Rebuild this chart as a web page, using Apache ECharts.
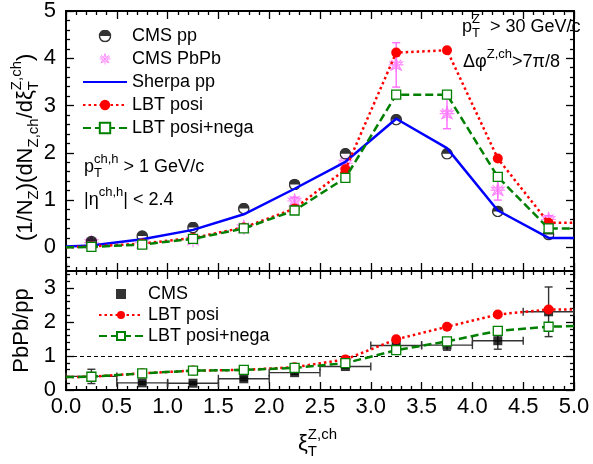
<!DOCTYPE html>
<html>
<head>
<meta charset="utf-8">
<title>xi_T Z-hadron</title>
<script src="https://cdn.jsdelivr.net/npm/echarts@6.0.0/dist/echarts.min.js"></script>
<style>
	html, body { margin: 0; padding: 0; background: #fff; }
	#chart { width: 593px; height: 464px; }
</style>
</head>
<body>
<div id="chart"></div>
<script>
var xCenters = [0.25, 0.75, 1.25, 1.75, 2.25, 2.75, 3.25, 3.75, 4.25, 4.75];
var lineX = [0, 0.25, 0.75, 1.25, 1.75, 2.25, 2.75, 3.25, 3.75, 4.25, 4.75, 5];
var binHalf = [0.25, 0.25, 0.25, 0.25, 0.25, 0.25, 0.25, 0.25, 0.25, 0.25];

// 上图: 分布
var cmsPP = [0.12, 0.24, 0.42, 0.82, 1.33, 1.98, 2.70, 1.98, 0.76, 0.27];
var cmsPbPb = [0.10, 0.10, 0.16, 0.42, 0.98, 1.78, 3.86, 2.83, 1.21, 0.59];
var cmsPbPbErr = [0.05, 0.05, 0.05, 0.06, 0.08, 0.15, 0.47, 0.32, 0.21, 0.08];
var sherpaPP = [0.02, 0.04, 0.17, 0.37, 0.70, 1.24, 1.81, 2.72, 2.10, 0.78, 0.20, 0.20];
var lbtPosi = [0.0, 0.02, 0.08, 0.20, 0.42, 0.82, 1.65, 4.12, 4.17, 1.88, 0.52, 0.52];
var lbtPosiNega = [0.0, 0.01, 0.06, 0.18, 0.40, 0.78, 1.47, 3.23, 3.23, 1.49, 0.40, 0.40];

// 下图: PbPb/pp
var cmsRatio = [0.40, 0.21, 0.20, 0.33, 0.51, 0.69, 1.31, 1.32, 1.45, 2.30];
var cmsRatioErr = [0.21, 0.04, 0.04, 0.05, 0.05, 0.05, 0.08, 0.15, 0.25, 0.73];
var lbtPosiRatio = [0.38, 0.39, 0.49, 0.57, 0.59, 0.67, 0.90, 1.49, 1.86, 2.22, 2.37, 2.37];
var lbtPosiNegaRatio = [0.38, 0.39, 0.49, 0.57, 0.59, 0.65, 0.79, 1.17, 1.43, 1.74, 1.86, 1.88];

var topYTicks = [0, 1, 2, 3, 4, 5];
var bottomYTicks = [0, 1, 2, 3];

var FONT = 'Liberation Sans';
var RED = '#ff0000', GREEN = '#008000', BLUE = '#0000ff', PINK = '#ff6eff';

var chart = echarts.init(document.getElementById('chart'));

var ctx = document.createElement('canvas').getContext('2d');
function textWidth(t, size) {
	ctx.font = size + 'px "' + FONT + '"';
	return ctx.measureText(t).width;
}
function txt(t, x, y, size) {
	return {
		type: 'text', x: x, y: y,
		style: {
			text: t, fontSize: size, fontFamily: FONT, fill: '#000',
			align: 'left', textAlign: 'left', verticalAlign: 'middle', textVerticalAlign: 'middle'
		}
	};
}
// 简单的上下标排版
function mathText(x, y, size, parts, rot) {
	var children = [];
	var cx = 0;
	var s = Math.round(size * 0.7);
	parts.forEach(function(p) {
		if(p.t) {
			children.push(txt(p.t, cx, 0, size));
			cx += textWidth(p.t, size);
		}
		var adv = 0;
		if(p.sup) {
			children.push(txt(p.sup, cx, -0.42 * size, s));
			adv = textWidth(p.sup, s);
		}
		if(p.sub) {
			children.push(txt(p.sub, cx, 0.34 * size, s));
			adv = Math.max(adv, textWidth(p.sub, s));
		}
		cx += adv;
	});
	return { type: 'group', x: x, y: y, rotation: rot || 0, children: children };
}

function pairs(xs, ys, noEnds) {
	return xs.map(function(x, i) {
		var item = { value: [x, ys[i]] };
		if(noEnds && (i === 0 || i === xs.length - 1)) {
			item.symbol = 'none';
		}
		return item;
	});
}

var halfCircleSvg = "<svg xmlns='http://www.w3.org/2000/svg' width='24' height='24' viewBox='0 0 24 24'>" +
	"<circle cx='12' cy='12' r='10.3' fill='white' stroke='black' stroke-width='2.8'/>" +
	"<path d='M1.7,12 A10.3,10.3 0 0 1 22.3,12 Z' fill='black'/></svg>";
var halfCircle = 'image://data:image/svg+xml;charset=utf-8,' + encodeURIComponent(halfCircleSvg);
var asteriskSvg = "<svg xmlns='http://www.w3.org/2000/svg' width='30' height='30' viewBox='-15 -15 30 30'>" +
	"<g stroke='" + PINK + "' stroke-width='2' fill='none'>" +
	"<path d='M0,-13L0,13M-13,0L13,0M-9,-9L9,9M-9,9L9,-9'/>" +
	"<path d='M0,-12L3,-4L11,-5L5,1L9,9L0,5L-9,9L-5,1L-11,-5L-3,-4Z'/></g></svg>";
var asterisk = 'image://data:image/svg+xml;charset=utf-8,' + encodeURIComponent(asteriskSvg);
var squareIcon = 'path://M0,0L10,0L10,10L0,10Z';

function errorBars(params, api) {
	var x = api.value(0), y = api.value(1), e = api.value(2), xe = api.value(3);
	var hi = api.coord([x, y + e]), lo = api.coord([x, y - e]);
	var c = api.coord([x, y]);
	var st = { stroke: api.visual('color'), lineWidth: 1.4 };
	var cap = 4;
	var ch = [
		{ type: 'line', shape: { x1: hi[0], y1: hi[1], x2: lo[0], y2: lo[1] }, style: st },
		{ type: 'line', shape: { x1: hi[0] - cap, y1: hi[1], x2: hi[0] + cap, y2: hi[1] }, style: st },
		{ type: 'line', shape: { x1: lo[0] - cap, y1: lo[1], x2: lo[0] + cap, y2: lo[1] }, style: st }
	];
	if(xe) {
		var l = api.coord([x - xe, y]), r = api.coord([x + xe, y]);
		ch.push({ type: 'line', shape: { x1: l[0], y1: c[1], x2: r[0], y2: c[1] }, style: st });
		ch.push({ type: 'line', shape: { x1: l[0], y1: c[1] - cap, x2: l[0], y2: c[1] + cap }, style: st });
		ch.push({ type: 'line', shape: { x1: r[0], y1: c[1] - cap, x2: r[0], y2: c[1] + cap }, style: st });
	}
	return { type: 'group', children: ch };
}

var minorTop = [], minorBottom = [];
for(var i = -2; i <= 25; i++) {
	if(i % 5 !== 0) minorTop.push(i / 5);
}
for(var j = 1; j < 18; j++) {
	if(j % 5 !== 0) minorBottom.push(j / 5);
}

var tickLine = { color: '#000', width: 1.3 };
var frameLine = { show: true, onZero: false, lineStyle: { color: '#000', width: 1.8 } };

function xAxisOf(grid, pos, labels) {
	return {
		type: 'value', gridIndex: grid, position: pos, min: 0, max: 5, interval: 0.5,
		axisLine: frameLine,
		axisTick: { inside: true, length: 8, lineStyle: tickLine },
		minorTick: { show: true, splitNumber: 5, length: 4, lineStyle: tickLine },
		splitLine: { show: false },
		axisLabel: {
			show: labels, margin: 6, fontSize: 22, color: '#000', fontFamily: FONT,
			formatter: function(v) { return v.toFixed(1); }
		}
	};
}
function yAxisOf(grid, pos, min, max, ticks, len, labels) {
	return {
		type: 'value', gridIndex: grid, position: pos, min: min, max: max,
		axisLine: frameLine,
		axisTick: { inside: true, length: len, customValues: ticks, lineStyle: tickLine },
		splitLine: { show: false },
		axisLabel: {
			show: labels, customValues: ticks, margin: 10, fontSize: 22, color: '#000', fontFamily: FONT
		}
	};
}

var xAxes = [xAxisOf(0, 'bottom', false), xAxisOf(0, 'top', false), xAxisOf(1, 'bottom', true), xAxisOf(1, 'top', false)];
var yAxes = [
	yAxisOf(0, 'left', -0.5, 5, topYTicks, 8, true),
	yAxisOf(0, 'right', -0.5, 5, topYTicks, 8, false),
	yAxisOf(0, 'left', -0.5, 5, minorTop, 4, false),
	yAxisOf(0, 'right', -0.5, 5, minorTop, 4, false),
	yAxisOf(1, 'left', 0, 3.5, bottomYTicks, 8, true),
	yAxisOf(1, 'right', 0, 3.5, bottomYTicks, 8, false),
	yAxisOf(1, 'left', 0, 3.5, minorBottom, 4, false),
	yAxisOf(1, 'right', 0, 3.5, minorBottom, 4, false)
];
yAxes[4].name = 'PbPb/pp';
yAxes[4].nameLocation = 'middle';
yAxes[4].nameRotate = 90;
yAxes[4].nameGap = 21;
yAxes[4].nameTextStyle = { fontSize: 22, color: '#000', fontFamily: FONT };

var series = [
	{
		type: 'custom', xAxisIndex: 0, yAxisIndex: 0, renderItem: errorBars,
		itemStyle: { color: PINK }, encode: { x: 0, y: 1 }, z: 1,
		data: xCenters.map(function(x, i) { return [x, cmsPbPb[i], cmsPbPbErr[i], 0]; })
	},
	{
		name: 'CMS PbPb', type: 'scatter', xAxisIndex: 0, yAxisIndex: 0,
		symbol: asterisk, symbolSize: 17, symbolKeepAspect: true,
		itemStyle: { color: PINK },
		data: xCenters.map(function(x, i) { return [x, cmsPbPb[i]]; }), z: 2
	},
	{
		name: 'CMS pp', type: 'scatter', xAxisIndex: 0, yAxisIndex: 0,
		symbol: halfCircle, symbolSize: 12, symbolKeepAspect: true,
		itemStyle: { color: '#000' },
		data: xCenters.map(function(x, i) { return [x, cmsPP[i]]; }), z: 3
	},
	{
		name: 'Sherpa pp', type: 'line', xAxisIndex: 0, yAxisIndex: 0,
		symbol: 'none', lineStyle: { color: BLUE, width: 2.5 }, itemStyle: { color: BLUE },
		data: pairs(lineX, sherpaPP), z: 4
	},
	{
		name: 'LBT posi', type: 'line', xAxisIndex: 0, yAxisIndex: 0,
		symbol: 'circle', symbolSize: 10,
		lineStyle: { color: RED, width: 2.5, type: [2.5, 3] }, itemStyle: { color: RED },
		data: pairs(lineX, lbtPosi, true), z: 5
	},
	{
		name: 'LBT posi+nega', type: 'line', xAxisIndex: 0, yAxisIndex: 0,
		symbol: 'rect', symbolSize: 9,
		lineStyle: { color: GREEN, width: 2.5, type: [8, 4] },
		itemStyle: { color: '#fff', borderColor: GREEN, borderWidth: 1.3 },
		data: pairs(lineX, lbtPosiNega, true), z: 6
	},
	{
		type: 'custom', xAxisIndex: 2, yAxisIndex: 4, renderItem: errorBars,
		itemStyle: { color: '#333' }, encode: { x: 0, y: 1 }, z: 1,
		data: xCenters.map(function(x, i) { return [x, cmsRatio[i], cmsRatioErr[i], binHalf[i]]; })
	},
	{
		name: 'CMS', type: 'scatter', xAxisIndex: 2, yAxisIndex: 4,
		symbol: 'rect', symbolSize: 9, itemStyle: { color: '#000' },
		data: xCenters.map(function(x, i) { return [x, cmsRatio[i]]; }), z: 2
	},
	{
		name: 'LBT posi', type: 'line', xAxisIndex: 2, yAxisIndex: 4,
		symbol: 'circle', symbolSize: 10,
		lineStyle: { color: RED, width: 2.5, type: [2.5, 3] }, itemStyle: { color: RED },
		data: pairs(lineX, lbtPosiRatio, true), z: 5,
		markLine: {
			silent: true, symbol: ['none', 'none'], label: { show: false },
			lineStyle: { color: '#000', width: 1, type: [4, 3] },
			data: [{ yAxis: 1 }]
		}
	},
	{
		name: 'LBT posi+nega', type: 'line', xAxisIndex: 2, yAxisIndex: 4,
		symbol: 'rect', symbolSize: 9,
		lineStyle: { color: GREEN, width: 2.5, type: [8, 4] },
		itemStyle: { color: '#fff', borderColor: GREEN, borderWidth: 1.3 },
		data: pairs(lineX, lbtPosiNegaRatio, true), z: 6
	}
];

var graphics = [
	mathText(26, 241, 22, [
		{ t: '(1/N', sub: 'Z' }, { t: ')(dN', sub: 'Z,ch' }, { t: '/d\u03be', sub: 'T', sup: 'Z,ch' }, { t: ')' }
	], Math.PI / 2),
	mathText(298, 444, 22, [{ t: '\u03be', sub: 'T', sup: 'Z,ch' }]),
	mathText(462, 27, 18, [{ t: 'p', sub: 'T', sup: 'Z' }, { t: '  > 30 GeV/c' }]),
	mathText(463, 62, 18, [{ t: '\u0394\u03c6', sup: 'Z,ch' }, { t: '>7\u03c0/8' }]),
	mathText(84, 167, 18, [{ t: 'p', sub: 'T', sup: 'ch,h' }, { t: ' > 1 GeV/c' }]),
	mathText(84, 200, 18, [{ t: '|\u03b7', sup: 'ch,h' }, { t: '| < 2.4' }])
];

var legendText = { fontSize: 18, lineHeight: 18, color: '#000', fontFamily: FONT };

var option = {
	animation: false,
	textStyle: { fontFamily: FONT },
	grid: [
		{ left: 66, right: 19, top: 11, height: 260 },
		{ left: 66, right: 19, top: 271, height: 119 }
	],
	legend: [
		{
			orient: 'vertical', left: 77, top: 22, itemWidth: 44, itemHeight: 13, itemGap: 5,
			textStyle: legendText, selectedMode: false, symbolKeepAspect: true,
			data: [
				{ name: 'CMS pp', icon: halfCircle },
				{ name: 'CMS PbPb', icon: asterisk },
				{ name: 'Sherpa pp', itemStyle: { opacity: 0 } },
				'LBT posi',
				'LBT posi+nega'
			]
		},
		{
			orient: 'vertical', left: 93, top: 280, itemWidth: 44, itemHeight: 10, itemGap: 3,
			textStyle: legendText, selectedMode: false, symbolKeepAspect: true,
			data: [{ name: 'CMS', icon: squareIcon }, 'LBT posi', 'LBT posi+nega']
		}
	],
	xAxis: xAxes,
	yAxis: yAxes,
	series: series,
	graphic: { elements: graphics }
};
chart.setOption(option);
</script>
</body>
</html>
